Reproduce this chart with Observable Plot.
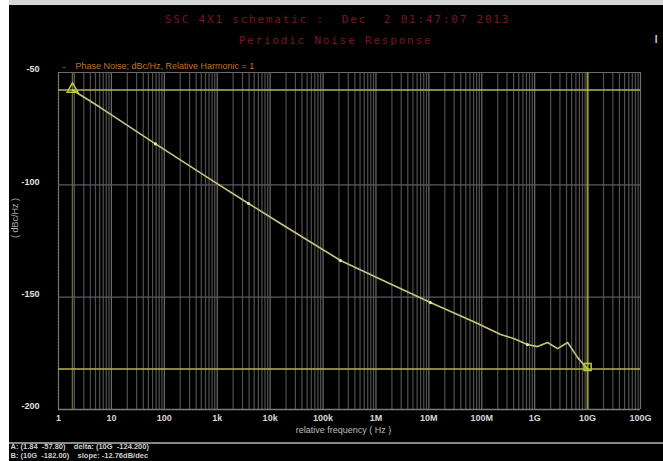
<!DOCTYPE html>
<html>
<head>
<meta charset="utf-8">
<script src="https://cdn.jsdelivr.net/npm/d3@7"></script>
<script src="https://cdn.jsdelivr.net/npm/@observablehq/plot@0.6"></script>
<style>
  body { margin: 0; background: #000; }
  #wrap { position: relative; width: 663px; height: 461px; overflow: hidden; background: #000; }
  #chart svg { display: block; }
  .edge-top { position: absolute; left: 0; top: 0; width: 663px; height: 5px; background: #d6d6d6; }
  .edge-left { position: absolute; left: 0; top: 0; width: 9px; height: 461px; background: #fff; }
  .status-rule { position: absolute; left: 9px; top: 442px; width: 654px; height: 2px; background: #8a8a8a; }
</style>
</head>
<body>
<div id="wrap">
  <div id="chart"></div>
  <div class="status-rule"></div>
  <div class="edge-top"></div>
  <div class="edge-left"></div>
</div>
<script>
// Phase noise sweep: offset frequency (Hz) and noise level (dBc/Hz)
const freq  = [1.84, 6.2, 68, 930, 3900, 15700, 214000, 1.5e6, 1.07e7, 7.6e7,
               2.27e8, 4.0e8, 7.3e8, 1.13e9, 1.75e9, 2.7e9, 4.2e9, 6.5e9, 1e10];
const noise = [-57.8, -65.6, -81.8, -99.0, -108.3, -117.2, -133.7, -143.0, -152.4, -161.3,
               -166.6, -168.4, -171.1, -172.0, -170.2, -172.9, -170.2, -176.9, -182.0];
// sweep points drawn with a symbol on the trace
const symbolIdx = [2, 4, 6, 8, 12];

// axis ticks
const xDecades = [1, 10, 100, 1e3, 1e4, 1e5, 1e6, 1e7, 1e8, 1e9, 1e10, 1e11];
const xTickLabels = ["1", "10", "100", "1k", "10k", "100k", "1M", "10M", "100M", "1G", "10G", "100G"];
const yTicks = [-50, -100, -150, -200];
const yTickLabels = ["-50", "-100", "-150", "-200"];

// texts
const titleLine1 = "SSC 4X1 schematic :  Dec  2 01:47:07 2013";
const titleLine2 = "Periodic Noise Response";
const traceName = "Phase Noise; dBc/Hz, Relative Harmonic = 1";
const xTitle = "relative frequency ( Hz )";
const yTitle = "( dBc/Hz )";

const data = freq.map((f, i) => ({f, v: noise[i]}));
const minorTicks = xDecades.slice(0, -1).flatMap(d => d3.range(2, 10).map(m => m * d));

const first = data[0], last = data[data.length - 1];
const fmtF = f => d3.format(".4~s")(f);
const delta = last.v - first.v;
const slope = delta / Math.log10(last.f / first.f);
const status1 = `A: (${fmtF(first.f)}  ${first.v.toFixed(2)})    delta: (${fmtF(last.f)}  ${delta.toFixed(3)})`;
const status2 = `B: (${fmtF(last.f)}  ${last.v.toFixed(2)})    slope: ${slope.toFixed(2)}dB/dec`;

const mono = "DejaVu Sans Mono, monospace";
const sans = "Liberation Sans, Arial, sans-serif";

const plot = Plot.plot({
  width: 663,
  height: 461,
  marginLeft: 58,
  marginRight: 23,
  marginTop: 72,
  marginBottom: 52,
  style: {background: "#000", color: "#d8d8d8", fontFamily: sans, fontSize: "9px"},
  x: {type: "log", domain: [1, 1e11]},
  y: {domain: [-200, -50]},
  marks: [
    // grid
    Plot.ruleX(minorTicks, {stroke: "#505050", strokeWidth: 1.2}),
    Plot.ruleX(xDecades, {stroke: "#6c6c6c", strokeWidth: 1.2}),
    Plot.ruleY([-100, -150], {stroke: "#5d5a66", strokeWidth: 1.4}),
    Plot.ruleY([-50], {stroke: "#6a6a6a", strokeWidth: 1}),
    Plot.ruleY([-200], {stroke: "#7a7a7a", strokeWidth: 1.5}),
    Plot.ruleX([1], {stroke: "#8a8a8a", strokeDasharray: "1,2"}),

    // axes
    Plot.axisX(xDecades, {
      tickSize: 0, tickPadding: 5, label: null, fill: "#d8d8d8", fontWeight: "bold",
      tickFormat: d => xTickLabels[Math.round(Math.log10(d))]
    }),
    Plot.axisY(yTicks, {
      tickSize: 0, tickPadding: 19, label: null, fill: "#e0e0e0", fontWeight: "bold", dy: -3,
      tickFormat: d => yTickLabels[yTicks.indexOf(d)]
    }),

    // marker lines
    Plot.ruleX([first.f], {stroke: "#6a6a2e", strokeWidth: 1.5}),
    Plot.ruleX([last.f], {stroke: "#96963c", strokeWidth: 2}),
    Plot.ruleY([first.v, last.v], {stroke: "#b4b746", strokeWidth: 1.6}),

    // trace
    Plot.line(data, {x: "f", y: "v", stroke: "#c8c67e", strokeWidth: 1.6}),
    Plot.dot(symbolIdx.map(i => data[i]), {x: "f", y: "v", r: 1.6, fill: "#e6e4a0"}),
    Plot.dot([first], {x: "f", y: "v", symbol: "triangle", r: 4, stroke: "#b8cc44", strokeWidth: 1.5, dy: -1}),
    Plot.dot([last], {x: "f", y: "v", symbol: "square", r: 4, stroke: "#b8cc44", strokeWidth: 1.5, dy: -2}),

    // titles and labels
    Plot.text([titleLine1], {frameAnchor: "top", dx: -12, dy: -57, fill: "#7e1426", fontFamily: mono, fontSize: 11}),
    Plot.text([titleLine2], {frameAnchor: "top", dx: -14, dy: -36, fill: "#7e1426", fontFamily: mono, fontSize: 11}),
    Plot.text(["-"], {frameAnchor: "top-left", dx: 4, dy: -9, fill: "#888", fontSize: 9}),
    Plot.text([traceName], {frameAnchor: "top-left", dx: 17, dy: -10, textAnchor: "start", fill: "#c27420", fontSize: 9}),
    Plot.text([xTitle], {frameAnchor: "bottom", dx: -6, dy: 23, fill: "#bdbdbd", fontSize: 9}),
    Plot.text([yTitle], {frameAnchor: "left", dx: -43, dy: -3, rotate: -90, fill: "#b0b0b0", fontSize: 9}),
    Plot.text(["I"], {frameAnchor: "top-right", dx: 17, dy: -37, fill: "#cfcfcf", fontSize: 10, fontWeight: "bold"}),
    Plot.text([status1], {frameAnchor: "bottom-left", dx: -48, dy: 39, textAnchor: "start", fill: "#d0d0d0", fontSize: 7.5, fontWeight: "bold"}),
    Plot.text([status2], {frameAnchor: "bottom-left", dx: -48, dy: 48, textAnchor: "start", fill: "#d0d0d0", fontSize: 7.5, fontWeight: "bold"})
  ]
});

// widen the letter spacing of the monospaced title lines
d3.select(plot).selectAll("text")
  .filter(function() { return this.textContent === titleLine1 || this.textContent === titleLine2; })
  .style("letter-spacing", "1.8px");

document.getElementById("chart").append(plot);
</script>
</body>
</html>
